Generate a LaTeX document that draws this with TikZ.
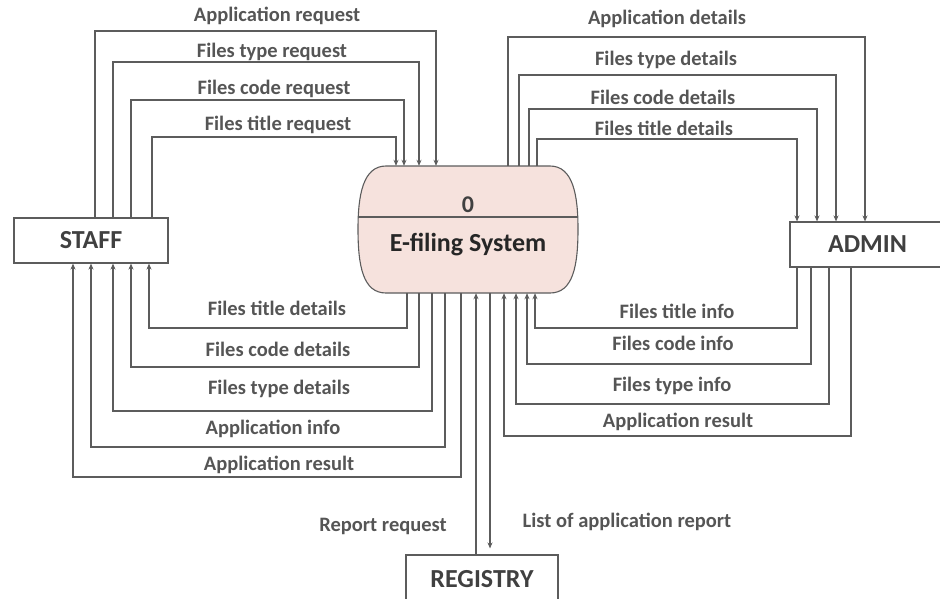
\documentclass[tikz,border=0pt]{standalone}
\usepackage{fontspec}
\setmainfont{Carlito}
\usetikzlibrary{arrows.meta,calc}
\definecolor{linec}{HTML}{5C5C5C}
\definecolor{labc}{HTML}{555555}
\definecolor{entc}{HTML}{404040}
\definecolor{sysfill}{HTML}{F6E2DD}
\begin{document}
\begin{tikzpicture}[x=1pt,y=-1pt,
  flow/.style={draw=linec, line width=1.1pt, -{Stealth[length=6pt,width=5pt]}},
  lbl/.style={font=\bfseries\fontsize{20.5}{23}\selectfont, text=labc, inner sep=0pt},
  ent/.style={draw=linec, line width=1.1pt, fill=white, font=\bfseries\fontsize{26}{30}\selectfont, text=entc, inner sep=0pt},
  sysline/.style={draw=linec, line width=1.1pt}]
\useasboundingbox (0,0) rectangle (940,598);
\clip (0,0) rectangle (940,598);

% entities
\node[ent, minimum width=154pt, minimum height=45pt] (staff) at (91,240.5) {STAFF};
\node[ent, minimum width=155pt, minimum height=45pt] (admin) at (867.5,244.5) {ADMIN};
\node[ent, minimum width=152pt, minimum height=50pt] (registry) at (482,580) {\raisebox{3pt}{REGISTRY}};

% process
\node[minimum width=220pt, minimum height=127pt, inner sep=0pt] (sys) at (468,229.5) {};
\path[sysline, fill=sysfill] (386,166) -- (550,166)
  .. controls (573,166) and (578,195) .. (578,229)
  .. controls (578,266) and (573,293) .. (550,293)
  -- (386,293)
  .. controls (363,293) and (358,266) .. (358,229)
  .. controls (358,195) and (363,166) .. (386,166) -- cycle;
\draw[sysline] (358.4,217) -- (577.6,217);
\node[font=\bfseries\fontsize{24}{28}\selectfont, text=entc, inner sep=0pt] (sysnum) at (468,205) {0};
\node[font=\bfseries\fontsize{26}{30}\selectfont, text=black!85, inner sep=0pt] (systitle) at (468,245) {E-filing System};

% STAFF -> system
\draw[flow] (staff.north -| 95,0) |- (436,31) -- (sys.north -| 436,0);
\draw[flow] (staff.north -| 113,0) |- (419,62) -- (sys.north -| 419,0);
\draw[flow] (staff.north -| 131,0) |- (404,100) -- (sys.north -| 404,0);
\draw[flow] (staff.north -| 152,0) |- (396,137) -- (sys.north -| 396,0);
\node[lbl] (l1) at (277,16) {Application request};
\node[lbl] (l2) at (272,52) {Files type request};
\node[lbl] (l3) at (274,89) {Files code request};
\node[lbl] (l4) at (278,125) {Files title request};

% system -> ADMIN
\draw[flow] (sys.north -| 508,0) |- (865,37) -- (admin.north -| 865,0);
\draw[flow] (sys.north -| 519,0) |- (836,75) -- (admin.north -| 836,0);
\draw[flow] (sys.north -| 529,0) |- (817,109) -- (admin.north -| 817,0);
\draw[flow] (sys.north -| 537,0) |- (797,139) -- (admin.north -| 797,0);
\node[lbl] (r1) at (667,19) {Application details};
\node[lbl] (r2) at (666,60) {Files type details};
\node[lbl] (r3) at (663,97) {Files code details};
\node[lbl] (r4) at (664,128) {Files title details};

% system -> STAFF
\draw[flow] (sys.south -| 407,0) |- (149,328) -- (staff.south -| 149,0);
\draw[flow] (sys.south -| 419,0) |- (131,367) -- (staff.south -| 131,0);
\draw[flow] (sys.south -| 432,0) |- (113,411) -- (staff.south -| 113,0);
\draw[flow] (sys.south -| 445,0) |- (91,447) -- (staff.south -| 91,0);
\draw[flow] (sys.south -| 461,0) |- (73,477) -- (staff.south -| 73,0);
\node[lbl] (b1) at (277,308) {Files title details};
\node[lbl] (b2) at (278,349) {Files code details};
\node[lbl] (b3) at (279,389) {Files type details};
\node[lbl] (b4) at (273,429) {Application info};
\node[lbl] (b5) at (279,465) {Application result};

% ADMIN -> system
\draw[flow] (admin.south -| 797,0) |- (535,328) -- (sys.south -| 535,0);
\draw[flow] (admin.south -| 811,0) |- (527,364) -- (sys.south -| 527,0);
\draw[flow] (admin.south -| 829,0) |- (516,404) -- (sys.south -| 516,0);
\draw[flow] (admin.south -| 851,0) |- (504,436) -- (sys.south -| 504,0);
\node[lbl] (c1) at (677,311) {Files title info};
\node[lbl] (c2) at (673,343) {Files code info};
\node[lbl] (c3) at (672,386) {Files type info};
\node[lbl] (c4) at (678,422) {Application result};

% REGISTRY
\draw[flow] (registry.north -| 476,0) -- (sys.south -| 476,0);
\draw[flow] (sys.south -| 490,0) -- ($(registry.north -| 490,0)+(0,-6)$);
\node[lbl] (d1) at (383,526) {Report request};
\node[lbl] (d2) at (627,522) {List of application report};
\end{tikzpicture}
\end{document}
